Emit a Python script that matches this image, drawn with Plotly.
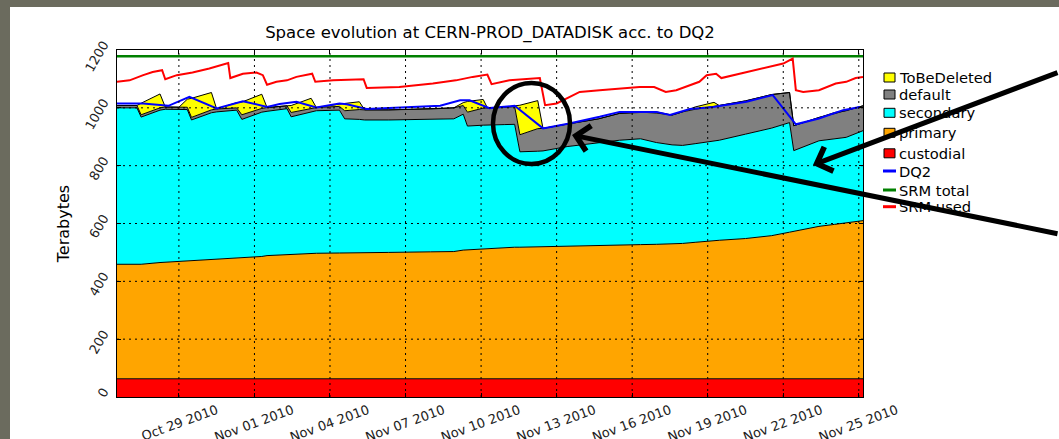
import plotly.graph_objects as go

# sample times of the stacked storage categories
stack_times = [
    "2010-10-26 13:00", "2010-10-27 08:00", "2010-10-27 12:00", "2010-10-28 06:00", "2010-10-28 11:00",
    "2010-10-29 00:00", "2010-10-29 08:00", "2010-10-29 12:00", "2010-10-30 07:00", "2010-10-30 12:00",
    "2010-10-31 07:00", "2010-10-31 12:00", "2010-11-01 07:00", "2010-11-01 12:00", "2010-11-02 07:00",
    "2010-11-02 11:00", "2010-11-03 06:00", "2010-11-03 11:00", "2010-11-04 09:00", "2010-11-04 14:00",
    "2010-11-05 04:00", "2010-11-05 09:00", "2010-11-06 08:00", "2010-11-08 00:00", "2010-11-08 22:00",
    "2010-11-09 07:00", "2010-11-09 11:00", "2010-11-10 02:00", "2010-11-10 06:00", "2010-11-10 22:00",
    "2010-11-11 08:00", "2010-11-11 13:00", "2010-11-12 06:00", "2010-11-12 11:00", "2010-11-13 10:00",
    "2010-11-14 16:00", "2010-11-15 12:00", "2010-11-16 08:00", "2010-11-16 23:00", "2010-11-17 14:00",
    "2010-11-18 00:00", "2010-11-18 12:00", "2010-11-19 06:00", "2010-11-19 11:00", "2010-11-20 12:00",
    "2010-11-21 13:00", "2010-11-22 06:00", "2010-11-22 10:00", "2010-11-23 10:00", "2010-11-24 01:00",
    "2010-11-24 12:00", "2010-11-25 04:00",
]

# Terabytes per category (not cumulative)
custodial = [63] * len(stack_times)
primary = [396, 396, 396, 402, 403, 406, 408, 409, 413, 414,
           418, 419, 423, 426, 430, 431, 433, 434, 435, 435,
           436, 436, 437, 439, 440, 445, 446, 450, 451, 453,
           455, 455, 456, 456, 458, 461, 462, 464, 465, 466,
           468, 472, 478, 479, 485, 495, 507, 510, 527, 534,
           540, 547]
secondary = [541, 541, 509, 527, 529, 525, 523, 486, 507, 509,
             511, 478, 499, 499, 504, 475, 489, 493, 494, 464,
             461, 459, 458, 458, 459, 470, 428, 427, 426, 426,
             425, 330, 331, 332, 345, 356, 363, 366, 352, 343,
             339, 341, 345, 346, 361, 372, 379, 279, 296, 295,
             295, 311]
default = [8, 8, 8, 8, 8, 8, 8, 9, 10, 10,
           8, 16, 13, 13, 10, 15, 13, 11, 13, 28,
           34, 35, 35, 36, 38, 30, 48, 59, 60, 60,
           61, 59, 78, 78, 78, 82, 93, 92, 102, 103,
           116, 119, 119, 120, 115, 116, 104, 86, 81, 88,
           92, 86]
to_be_deleted = [0, 0, 40, 48, 0, 0, 28, 66, 60, 0,
                 18, 44, 49, 0, 0, 24, 35, 0, 8, 25,
                 27, 0, 0, 0, 0, 10, 37, 30, 0, 0,
                 3, 102, 97, 0, 0, 0, 0, 0, 4, 0,
                 0, 8, 14, 0, 0, 0, 0, 0, 0, 4,
                 0, 0]

# DQ2 total
dq2_times = [
    "2010-10-26 13:00", "2010-10-27 14:00", "2010-10-28 14:00", "2010-10-29 10:00", "2010-10-30 12:00",
    "2010-10-31 13:00", "2010-11-01 12:00", "2010-11-02 00:00", "2010-11-02 16:00", "2010-11-03 11:00",
    "2010-11-04 09:00", "2010-11-04 16:00", "2010-11-05 11:00", "2010-11-06 18:00", "2010-11-08 09:00",
    "2010-11-09 04:00", "2010-11-09 13:00", "2010-11-10 08:00", "2010-11-11 08:00", "2010-11-12 11:00",
    "2010-11-13 12:00", "2010-11-14 17:00", "2010-11-15 12:00", "2010-11-16 23:00", "2010-11-17 12:00",
    "2010-11-18 07:00", "2010-11-19 05:00", "2010-11-20 13:00", "2010-11-21 14:00", "2010-11-22 12:00",
    "2010-11-23 10:00", "2010-11-24 09:00", "2010-11-25 01:00",
]
dq2 = [1015, 1015, 1007, 1038, 998, 1023, 1003, 1013, 1021, 1001,
       1015, 1012, 996, 1000, 1007, 1026, 1026, 999, 1007, 929,
       946, 969, 986, 986, 975, 996, 1003, 1021, 1044, 943,
       963, 992, 1003]

# SRM total
srm_total_times = ["2010-10-26 13:00", "2010-11-25 04:00"]
srm_total = [1178, 1178]

# SRM used
srm_used_times = [
    "2010-10-26 13:00", "2010-10-27 01:00", "2010-10-27 14:00", "2010-10-27 23:00", "2010-10-28 08:00",
    "2010-10-28 11:00", "2010-10-28 22:00", "2010-10-29 13:00", "2010-10-30 05:00", "2010-10-30 23:00",
    "2010-10-31 01:00", "2010-10-31 13:00", "2010-11-01 02:00", "2010-11-01 08:00", "2010-11-01 12:00",
    "2010-11-01 21:00", "2010-11-02 07:00", "2010-11-02 16:00", "2010-11-03 07:00", "2010-11-03 10:00",
    "2010-11-04 03:00", "2010-11-05 08:00", "2010-11-05 11:00", "2010-11-06 18:00", "2010-11-08 02:00",
    "2010-11-09 00:00", "2010-11-09 16:00", "2010-11-10 06:00", "2010-11-10 10:00", "2010-11-11 03:00",
    "2010-11-12 08:00", "2010-11-12 13:00", "2010-11-13 00:00", "2010-11-13 09:00", "2010-11-13 22:00",
    "2010-11-14 17:00", "2010-11-15 15:00", "2010-11-16 07:00", "2010-11-16 21:00", "2010-11-17 08:00",
    "2010-11-17 18:00", "2010-11-18 07:00", "2010-11-18 16:00", "2010-11-18 23:00", "2010-11-19 08:00",
    "2010-11-19 13:00", "2010-11-20 13:00", "2010-11-21 08:00", "2010-11-22 00:00", "2010-11-22 09:00",
    "2010-11-22 12:00", "2010-11-22 19:00", "2010-11-23 10:00", "2010-11-24 02:00", "2010-11-24 12:00",
    "2010-11-24 21:00", "2010-11-25 04:00",
]
srm_used = [1090, 1095, 1113, 1124, 1130, 1099, 1113, 1122, 1136, 1155,
            1103, 1118, 1122, 1113, 1080, 1090, 1095, 1107, 1118, 1090,
            1095, 1099, 1069, 1072, 1084, 1095, 1107, 1115, 1082, 1095,
            1103, 1009, 1015, 1032, 1055, 1061, 1067, 1072, 1072, 1055,
            1061, 1078, 1090, 1113, 1118, 1103, 1124, 1141, 1153, 1170,
            1061, 1055, 1061, 1084, 1090, 1103, 1107]

tick_dates = ["2010-10-29", "2010-11-01", "2010-11-04", "2010-11-07", "2010-11-10",
              "2010-11-13", "2010-11-16", "2010-11-19", "2010-11-22", "2010-11-25"]
tick_labels = ["Oct 29 2010", "Nov 01 2010", "Nov 04 2010", "Nov 07 2010", "Nov 10 2010",
               "Nov 13 2010", "Nov 16 2010", "Nov 19 2010", "Nov 22 2010", "Nov 25 2010"]
y_ticks = [0, 200, 400, 600, 800, 1000, 1200]

FONT = "DejaVu Sans"
W, H = 1059, 439
L, R, T, B = 117, 196, 50, 42


# pixel -> paper helpers for the decorations
def px(x):
    return (x - L) / (W - L - R)


def py(y):
    return (H - B - y) / (H - T - B)


fig = go.Figure()

# stacked areas, bottom first
areas = [
    ("custodial", custodial, "#ff0000"),
    ("primary", primary, "#ffa500"),
    ("secondary", secondary, "#00ffff"),
    ("default", default, "#808080"),
    ("ToBeDeleted", to_be_deleted, "#ffff00"),
]
for name, vals, color in areas:
    fig.add_trace(go.Scatter(
        x=stack_times, y=vals, name=name, mode="lines", stackgroup="one",
        line=dict(color="black", width=1), fillcolor=color,
    ))

lines = [
    ("DQ2", dq2_times, dq2, "#0000ff", 2),
    ("SRM total", srm_total_times, srm_total, "#008000", 2.5),
    ("SRM used", srm_used_times, srm_used, "#ff0000", 2),
]
for name, xs, ys, color, width in lines:
    fig.add_trace(go.Scatter(x=xs, y=ys, name=name, mode="lines",
                             line=dict(color=color, width=width)))

# dotted grid on top of the areas (matplotlib style)
for d in tick_dates:
    fig.add_shape(type="line", xref="x", yref="paper", x0=d, x1=d, y0=0, y1=1,
                  line=dict(color="black", width=1, dash="2px,4px"), layer="above")
for v in y_ticks[1:-1]:
    fig.add_shape(type="line", xref="paper", yref="y", x0=0, x1=1, y0=v, y1=v,
                  line=dict(color="black", width=1, dash="2px,4px"), layer="above")

# white slide area over the grey page background
fig.add_shape(type="rect", xref="paper", yref="paper", x0=px(10), x1=px(1070), y0=py(450), y1=py(7),
              fillcolor="white", line_width=0, layer="below")

# legend drawn by hand (matplotlib look: small square handles)
legend_rows = [77.5, 94.5, 112.8, 132.8, 153.3, 171, 190, 206.7]
legend_items = [("ToBeDeleted", "#ffff00", "box"), ("default", "#808080", "box"),
                ("secondary", "#00ffff", "box"), ("primary", "#ffa500", "box"),
                ("custodial", "#ff0000", "box"), ("DQ2", "#0000ff", "line"),
                ("SRM total", "#008000", "line"), ("SRM used", "#ff0000", "line")]
for (label, color, kind), row in zip(legend_items, legend_rows):
    if kind == "box":
        fig.add_shape(type="rect", xref="paper", yref="paper",
                      x0=px(884), x1=px(895), y0=py(row + 4.5), y1=py(row - 4.5),
                      fillcolor=color, line=dict(color="black", width=1), layer="above")
    else:
        fig.add_shape(type="line", xref="paper", yref="paper",
                      x0=px(883), x1=px(896), y0=py(row), y1=py(row),
                      line=dict(color=color, width=3), layer="above")
    fig.add_annotation(x=px(897), y=py(row), xref="paper", yref="paper", text=label,
                       showarrow=False, xanchor="left", yanchor="middle",
                       font=dict(family=FONT, size=14.7, color="black"))

# hand-drawn highlight circle and arrows
fig.add_shape(type="circle", xref="paper", yref="paper",
              x0=px(493), x1=px(570), y0=py(164), y1=py(83),
              line=dict(color="black", width=4.5), layer="above")
fig.add_annotation(x=px(813), y=py(165), xref="paper", yref="paper", ax=262, ay=-93,
                   showarrow=True, arrowhead=4, arrowsize=1.0, arrowwidth=5, arrowcolor="black", text="")
fig.add_annotation(x=px(572), y=py(135), xref="paper", yref="paper", ax=500, ay=99,
                   showarrow=True, arrowhead=4, arrowsize=1.0, arrowwidth=5, arrowcolor="black", text="")

fig.update_layout(
    width=W,
    height=H,
    autosize=False,
    margin=dict(l=L, r=R, t=T, b=B),
    paper_bgcolor="#6b6b5e",
    plot_bgcolor="white",
    font=dict(family=FONT, color="black"),
    title=dict(text="Space evolution at CERN-PROD_DATADISK acc. to DQ2",
               x=0.4627, xanchor="center", y=1 - 32 / H, yanchor="middle",
               font=dict(family=FONT, size=16.5, color="black")),
    xaxis=dict(
        range=["2010-10-26 13:00", "2010-11-25 04:00"], automargin=False,
        tickvals=tick_dates, ticktext=tick_labels, tickangle=-20,
        tickfont=dict(size=13, color="#222"), ticklabelshift=38,
        showgrid=False, showline=True, linecolor="black", linewidth=1, mirror="ticks",
        ticks="inside", ticklen=4, tickcolor="black", layer="above traces", zeroline=False,
    ),
    yaxis=dict(
        range=[0, 1200], tickvals=y_ticks, tickangle=-60, automargin=False,
        tickfont=dict(size=13, color="#222"), ticklabelshift=-7, ticklabelstandoff=10,
        title=dict(text="Terabytes", font=dict(size=16, color="black"), standoff=8),
        showgrid=False, showline=True, linecolor="black", linewidth=1, mirror="ticks",
        ticks="inside", ticklen=4, tickcolor="black", layer="above traces", zeroline=False,
    ),
    showlegend=False,
)

# page has no body margin so the figure sits at the window corner
fig.write_html("out.html", config={"displayModeBar": False},
               post_script="document.body.style.margin='0px';")
